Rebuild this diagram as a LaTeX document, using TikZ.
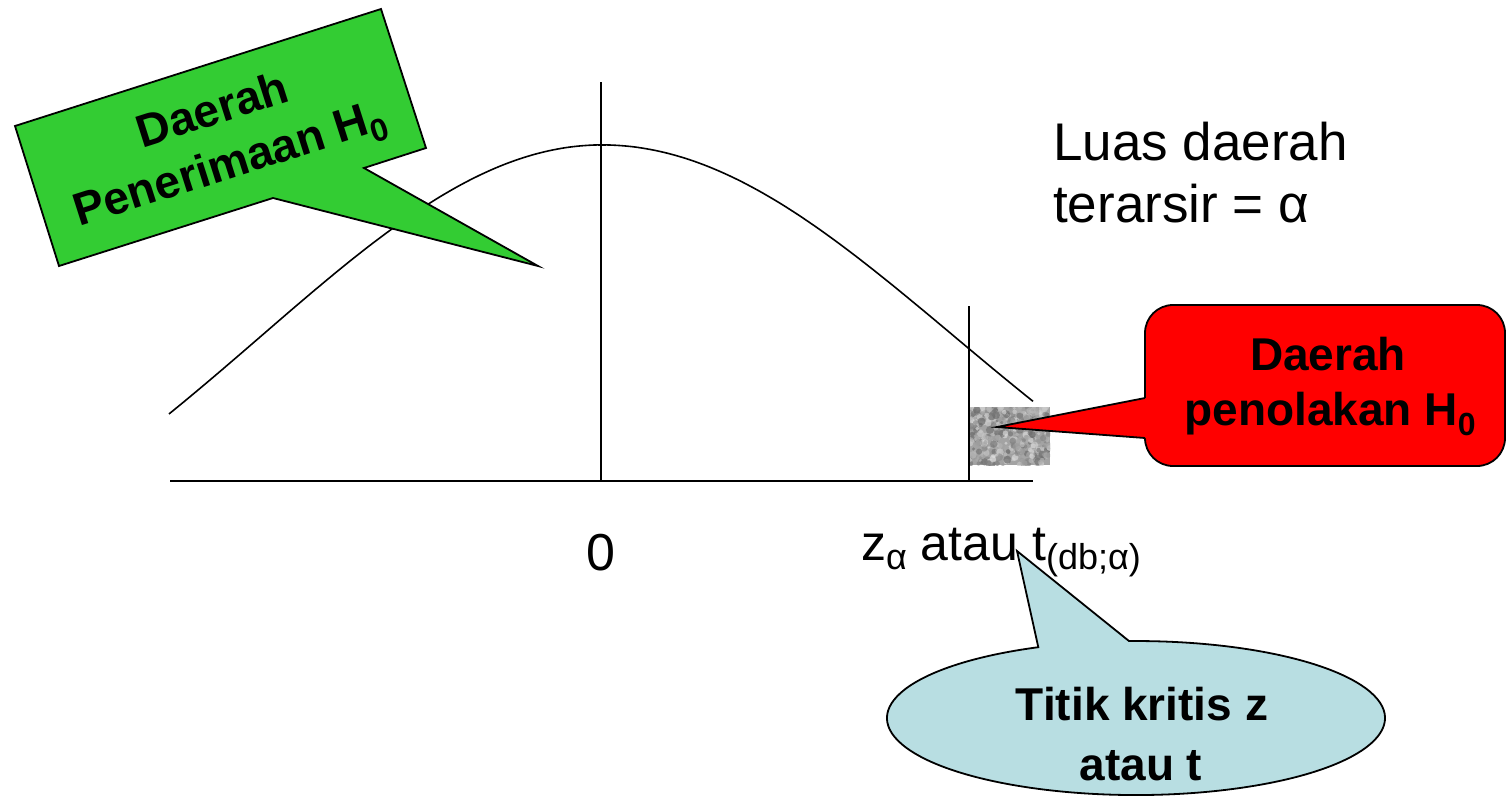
\documentclass[tikz,border=0pt]{standalone}
\usepackage{fontspec}
\setmainfont{Liberation Sans}
\usetikzlibrary{calc}
\definecolor{callgreen}{RGB}{51,204,51}
\definecolor{callred}{RGB}{255,0,0}
\definecolor{callblue}{RGB}{184,222,226}
\newcommand\mysub[3]{\raisebox{-#2pt}{\fontsize{#1}{#1}\selectfont #3}}
\tikzset{
  ln/.style={line width=1.6pt},
  callout/.style={draw=black, line width=1.8pt, line join=miter},
  plain/.style={inner sep=0pt, font=\fontsize{52}{62}\selectfont},
  boldtxt/.style={inner sep=0pt, font=\bfseries\fontsize{46}{56}\selectfont},
}
\begin{document}
\begin{tikzpicture}[x=1pt,y=1pt]
\useasboundingbox (0,0) rectangle (1507,-795);
\fill[white] (0,0) rectangle (1507,-795);

% shaded region (texture)
\begin{scope}
  \clip (969,-407) rectangle (1050,-465);
  \fill[black!36] (969,-407) rectangle (1050,-465);
  \pgfmathsetseed{11}
  \foreach \i in {1,...,420}{
    \pgfmathsetmacro\rx{969+81*rnd}
    \pgfmathsetmacro\ry{-407-58*rnd}
    \pgfmathtruncatemacro\rs{12+50*rnd}
    \pgfmathsetmacro\rr{1.5+2.5*rnd}
    \fill[black!\rs, opacity=0.65] (\rx,\ry) circle[radius=\rr];
  }
\end{scope}

% curve
\draw[ln] plot[domain=169:602, samples=90]
  (\x, {-(145 + 486*(1-exp(-(((\x-602)/341)^2)/2)))});
\draw[ln] plot[domain=602:1033, samples=90]
  (\x, {-(145 + 486*(1-exp(-(((\x-602)/352)^2)/2)))});

% axes
\coordinate (axL) at (170,-481);
\coordinate (axR) at (1033,-481);
\coordinate (vtop) at (601,-82);
\coordinate (vbot) at (601,-481);
\coordinate (ctop) at (969,-306);
\coordinate (cbot) at (969,-481);
\draw[ln] (axL) -- (axR);
\draw[ln] (vtop) -- (vbot);
\draw[ln] (ctop) -- (cbot);

% green callout
\draw[callout, fill=callgreen] (15,-126) -- (381,-9) -- (426,-148) -- (364,-168)
  -- (538,-266) -- (273,-198) -- (59,-266) -- cycle;
\node[boldtxt, rotate=17.7, align=center] (gtext) at (222,-140)
  {Daerah\\Penerimaan H\mysub{32}{10}{0}};

% plain labels
\node[plain, anchor=base west, font=\fontsize{53}{62}\selectfont] (luas1) at (1053,-160) {Luas daerah};
\node[plain, anchor=base west, font=\fontsize{53}{62}\selectfont] (luas2) at (1053,-222) {terarsir = α};
\node[plain, anchor=base] (zero) at (601,-570) {0};
\node[plain, anchor=base west, font=\fontsize{50}{58}\selectfont] (zlab) at (861,-560)
  {z\mysub{36}{9}{α} atau t\mysub{36}{9}{(db;α)}};

% red callout
\draw[callout, fill=callred, rounded corners=28] (1145,-305) rectangle (1505,-466);
\fill[callred] (997,-427) -- (1145,-398) -- (1152,-398) -- (1152,-438) -- (1145,-438) -- cycle;
\draw[callout] (1145,-398) -- (997,-427) -- (1145,-438);
\node[boldtxt, anchor=base] (r1) at (1328,-370) {Daerah};
\node[boldtxt, anchor=base] (r2) at (1330,-425) {penolakan H\mysub{32}{10}{0}};

% blue callout
\draw[callout, fill=callblue] (1017,-551) -- (1038.3,-647.2)
  arc[start angle=113.1, end angle=451.6, x radius=249, y radius=77] -- cycle;
\node[boldtxt, anchor=base] (b1) at (1142,-720) {Titik kritis z};
\node[boldtxt, anchor=base] (b2) at (1141,-780) {atau t};
\end{tikzpicture}
\end{document}
